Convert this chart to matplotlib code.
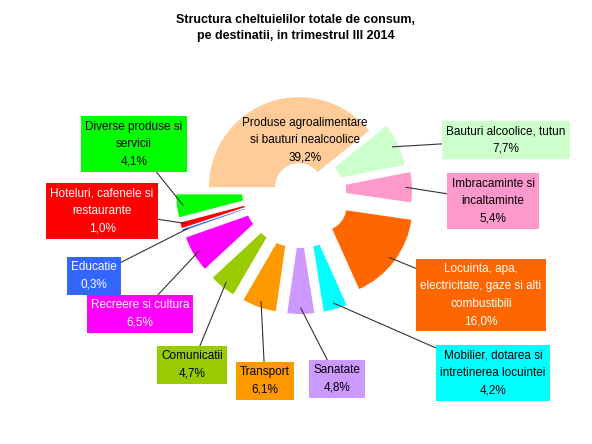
import matplotlib.pyplot as plt
import numpy as np

plt.rcParams['font.family'] = ['Liberation Sans', 'DejaVu Sans']

labels = ['Produse agroalimentare\nsi bauturi nealcoolice', 'Bauturi alcoolice, tutun',
          'Imbracaminte si\nincaltaminte', 'Locuinta, apa,\nelectricitate, gaze si alti\ncombustibili',
          'Mobilier, dotarea si\nintretinerea locuintei', 'Sanatate', 'Transport', 'Comunicatii',
          'Recreere si cultura', 'Educatie', 'Hoteluri, cafenele si\nrestaurante', 'Diverse produse si\nservicii']
values = [39.2, 7.7, 5.4, 16.0, 4.2, 4.8, 6.1, 4.7, 6.5, 0.3, 1.0, 4.1]
colors = ['#ffcc99', '#ccffcc', '#ff99cc', '#ff6600', '#00ffff', '#cc99ff', '#ff9900',
          '#99cc00', '#ff00ff', '#3366ff', '#ff0000', '#00ff00']
explode = [3, 18, 22, 28, 34, 34, 34, 34, 34, 34, 34, 34]
# box centres in pixel coords (x, y from top), text colour
box_pos = [None, (506, 140), (493, 201), (481, 295), (493, 373), (337, 379), (265, 381),
           (192, 365), (140, 314), (94, 276), (102, 211), (134, 144)]
text_col = ['black', 'black', 'black', 'white', 'black', 'black', 'black', 'black',
            'white', 'white', 'white', 'black']

fig = plt.figure(figsize=(5.92, 4.44), dpi=100)
ax = fig.add_axes([0, 0, 1, 1])

cx, cy = 300, 444 - 190
wedges, _ = ax.pie(values, colors=colors, startangle=180, counterclock=False,
                   explode=explode, radius=90, center=(cx, cy),
                   wedgeprops=dict(width=66, linewidth=0), frame=True)
ax.set_xlim(0, 592)
ax.set_ylim(0, 444)
ax.set_aspect('equal')
ax.axis('off')

for i, w in enumerate(wedges):
    pct = f"{values[i]:.1f}%".replace('.', ',')
    if box_pos[i] is None:
        ax.text(305, 444 - 140, labels[i] + '\n' + pct, ha='center', va='center',
                fontsize=8.5, linespacing=1.6)
        continue
    ang = np.deg2rad((w.theta1 + w.theta2) / 2)
    wx, wy = w.center
    px = wx + 84 * np.cos(ang)
    py = wy + 84 * np.sin(ang)
    bx, by = box_pos[i]
    ax.annotate(labels[i] + '\n' + pct, xy=(px, py), xytext=(bx, 444 - by),
                ha='center', va='center', fontsize=8.5, color=text_col[i], linespacing=1.6,
                bbox=dict(boxstyle='square,pad=0.35', fc=colors[i], ec='none'),
                arrowprops=dict(arrowstyle='-', color='#333333', lw=0.8, shrinkA=0, shrinkB=0))

ax.text(296, 444 - 28, 'Structura cheltuielilor totale de consum,\npe destinatii, in trimestrul III 2014',
        ha='center', va='center', fontsize=9, fontweight='bold', linespacing=1.4)

fig.savefig('out.png', dpi=100)
